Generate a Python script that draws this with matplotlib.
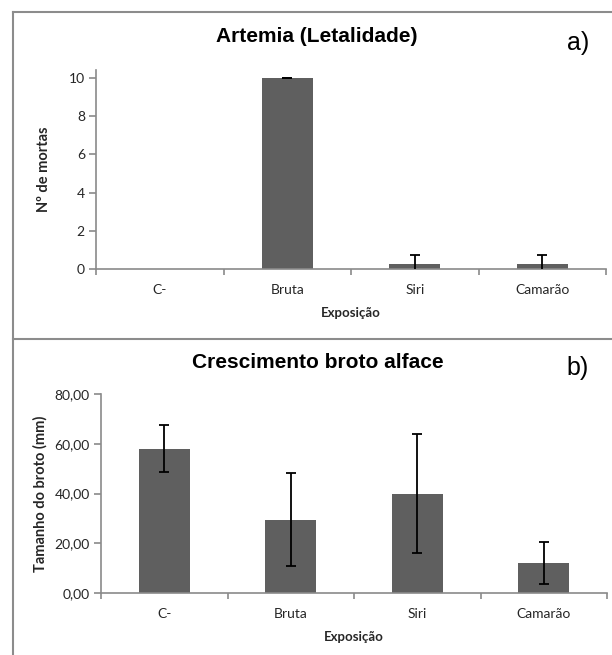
import matplotlib
matplotlib.use("Agg")
import matplotlib.pyplot as plt
from matplotlib.lines import Line2D
from matplotlib.ticker import FixedLocator, FuncFormatter

# ---- data ----
categories = ["C-", "Bruta", "Siri", "Camarão"]
mortas = [0, 10, 0.25, 0.25]
mortas_err = [0, 0, 0.5, 0.5]
broto = [58.0, 29.4, 40.0, 12.1]
broto_err = [9.5, 18.7, 23.8, 8.3]

title_a = "Artemia (Letalidade)"
title_b = "Crescimento broto alface"
ylabel_a = "Nº de mortas"
ylabel_b = "Tamanho do broto (mm)"
xlabel = "Exposição"

W, H = 612, 655
fig = plt.figure(figsize=(W / 100, H / 100), dpi=100)

BAR = "#5f5f5f"
SPINE = "#8a8a8a"
TXT = "#262626"
TICKFONT = ["Lato", "DejaVu Sans"]
TITLEFONT = ["Liberation Sans", "DejaVu Sans"]


def px(x, y):
    return x / W, 1 - y / H


def style(ax, ymax, ytick_vals, fmt):
    for s in ("top", "right"):
        ax.spines[s].set_visible(False)
    for s in ("left", "bottom"):
        ax.spines[s].set_color(SPINE)
        ax.spines[s].set_linewidth(1.2)
    ax.set_xlim(-0.5, 3.5)
    ax.set_ylim(0, ymax)
    ax.set_xticks(range(len(categories)))
    ax.set_xticklabels(categories, fontsize=10, family=TICKFONT, color=TXT)
    ax.tick_params(axis="x", which="major", length=0, pad=11)
    ax.xaxis.set_minor_locator(FixedLocator([-0.5, 0.5, 1.5, 2.5, 3.5]))
    ax.tick_params(axis="x", which="minor", length=4, color=SPINE, width=1.2)
    ax.yaxis.set_major_locator(FixedLocator(ytick_vals))
    ax.yaxis.set_major_formatter(FuncFormatter(fmt))
    ax.tick_params(axis="y", length=5, color=SPINE, width=1.2, pad=3)
    for lab in ax.get_yticklabels():
        lab.set_fontsize(10)
        lab.set_family(TICKFONT)
        lab.set_color(TXT)


# ---- panel a ----
ax1 = fig.add_axes([96 / W, 1 - 269 / H, 510 / W, (269 - 70.4) / H])
ax1.bar(range(len(categories)), mortas, width=0.4, color=BAR, zorder=2)
idx = [i for i, v in enumerate(mortas) if v > 0]
ax1.errorbar(idx, [mortas[i] for i in idx], yerr=[mortas_err[i] for i in idx],
             fmt="none", ecolor="black", elinewidth=1.3, capsize=3.5,
             capthick=1.3, zorder=3)
style(ax1, 10.4, [0, 2, 4, 6, 8, 10], lambda v, p: f"{v:.0f}")
ax1.set_xlabel(xlabel, fontsize=9.5, fontweight="bold", family=TICKFONT,
               color=TXT, labelpad=8)
ax1.set_ylabel(ylabel_a, fontsize=10.5, fontweight="bold", family=TICKFONT,
               color=TXT, labelpad=13)

# ---- panel b ----
ax2 = fig.add_axes([101 / W, 1 - 593 / H, 506 / W, (593 - 394) / H])
ax2.bar(range(len(categories)), broto, width=0.4, color=BAR, zorder=2)
ax2.errorbar(range(len(categories)), broto, yerr=broto_err, fmt="none",
             ecolor="black", elinewidth=1.3, capsize=3.5, capthick=1.3, zorder=3)
style(ax2, 80, [0, 20, 40, 60, 80], lambda v, p: f"{v:.2f}".replace(".", ","))
ax2.set_xlabel(xlabel, fontsize=9.5, fontweight="bold", family=TICKFONT,
               color=TXT, labelpad=8)
ax2.set_ylabel(ylabel_b, fontsize=10.5, fontweight="bold", family=TICKFONT,
               color=TXT, labelpad=5)

# ---- titles and panel letters ----
fig.text(*px(317, 37), title_a, ha="center", va="center", fontsize=15,
         fontweight="bold", family=TITLEFONT, color="black")
fig.text(*px(318, 362), title_b, ha="center", va="center", fontsize=15,
         fontweight="bold", family=TITLEFONT, color="black")
fig.text(*px(578, 43), "a)", ha="center", va="center", fontsize=18,
         family=TITLEFONT, color="black")
fig.text(*px(578, 368), "b)", ha="center", va="center", fontsize=18,
         family=TITLEFONT, color="black")

# ---- frame lines ----
BOX = "#8c8c8c"
for (x0, y0, x1, y1) in [(12.7, 12, 612, 12), (12.7, 12, 12.7, 655),
                         (12.7, 339, 612, 339)]:
    a, b = px(x0, y0)
    c, d = px(x1, y1)
    fig.add_artist(Line2D([a, c], [b, d], color=BOX, linewidth=1.5,
                          transform=fig.transFigure))

fig.savefig("out.png", dpi=100, facecolor="white")
